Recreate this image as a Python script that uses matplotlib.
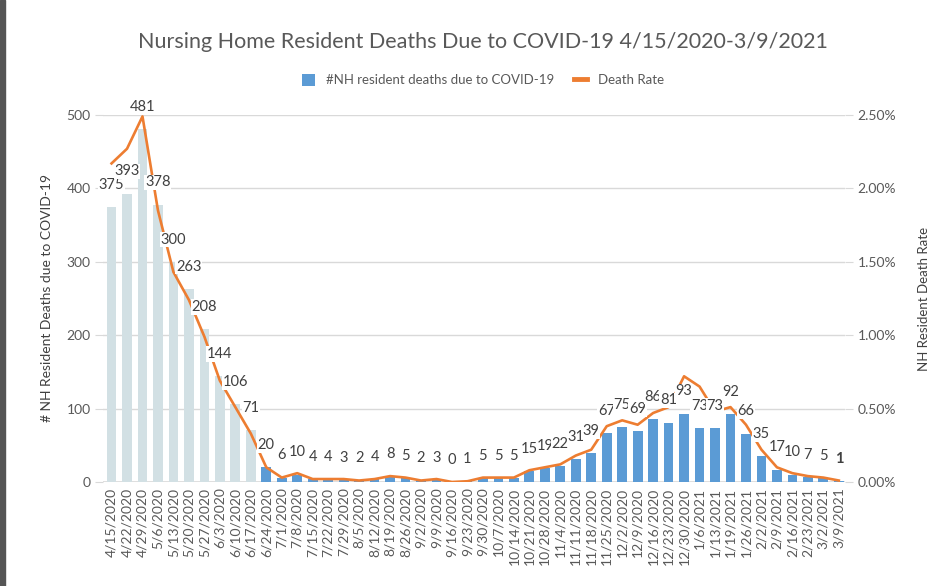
import matplotlib
matplotlib.use("Agg")
import matplotlib.pyplot as plt
from matplotlib.patches import Patch, Rectangle
from matplotlib.lines import Line2D
from matplotlib.ticker import FuncFormatter

plt.rcParams['font.family'] = ['Lato', 'DejaVu Sans']

weeks = ["4/15/2020", "4/22/2020", "4/29/2020", "5/6/2020", "5/13/2020", "5/20/2020",
         "5/27/2020", "6/3/2020", "6/10/2020", "6/17/2020", "6/24/2020", "7/1/2020",
         "7/8/2020", "7/15/2020", "7/22/2020", "7/29/2020", "8/5/2020", "8/12/2020",
         "8/19/2020", "8/26/2020", "9/2/2020", "9/9/2020", "9/16/2020", "9/23/2020",
         "9/30/2020", "10/7/2020", "10/14/2020", "10/21/2020", "10/28/2020", "11/4/2020",
         "11/11/2020", "11/18/2020", "11/25/2020", "12/2/2020", "12/9/2020", "12/16/2020",
         "12/23/2020", "12/30/2020", "1/6/2021", "1/13/2021", "1/19/2021", "1/26/2021",
         "2/2/2021", "2/9/2021", "2/16/2021", "2/23/2021", "3/2/2021", "3/9/2021"]

deaths = [375, 393, 481, 378, 300, 263, 208, 144, 106, 71, 20, 6,
          10, 4, 4, 3, 2, 4, 8, 5, 2, 3, 0, 1,
          5, 5, 5, 15, 19, 22, 31, 39, 67, 75, 69, 86,
          81, 93, 73, 73, 92, 66, 35, 17, 10, 7, 5, 1]

# death rate in percent
death_rate = [2.17, 2.27, 2.49, 1.85, 1.43, 1.24, 0.99, 0.69, 0.51, 0.33, 0.10, 0.03,
              0.06, 0.02, 0.02, 0.02, 0.01, 0.02, 0.04, 0.03, 0.01, 0.02, 0.0, 0.005,
              0.03, 0.03, 0.03, 0.08, 0.10, 0.12, 0.18, 0.22, 0.38, 0.42, 0.39, 0.47,
              0.51, 0.72, 0.65, 0.48, 0.51, 0.39, 0.22, 0.10, 0.06, 0.04, 0.03, 0.01]

n_faded = 10  # first weeks drawn in a pale colour

blue = "#5B9BD5"
pale = "#D2E0E4"
orange = "#ED7D31"
grey_txt = "#595959"

fig = plt.figure(figsize=(9.47, 5.86), dpi=100)
ax = fig.add_axes([0.1088, 0.1775, 0.7835, 0.6263])
ax2 = ax.twinx()

x = list(range(len(weeks)))
colors = [pale if i < n_faded else blue for i in x]
ax.bar(x, deaths, width=0.63, color=colors, zorder=2)
ax.axhline(0, color="#7F7F7F", lw=1, zorder=1)

ax.set_ylim(0, 500)
ax.set_xlim(-0.55, len(weeks) - 0.6)
ax.set_yticks([0, 100, 200, 300, 400, 500])
ax.grid(axis="y", color="#D9D9D9", lw=1, zorder=0)
ax.set_axisbelow(True)
ax.set_xticks(x)
ax.set_xticklabels(weeks, rotation=90, fontsize=10, color=grey_txt)
ax.tick_params(axis="x", length=0, pad=4)
ax.tick_params(axis="y", length=6, color="#D9D9D9", labelsize=10, labelcolor=grey_txt, pad=3)
for s in ax.spines.values():
    s.set_visible(False)
ax.set_ylabel("# NH Resident Deaths due to COVID-19", fontsize=10, color="#404040", labelpad=10)

ax2.plot(x, death_rate, color=orange, lw=1.9, zorder=3, solid_joinstyle="round")
ax2.set_ylim(0, 2.5)
ax2.set_yticks([0, 0.5, 1.0, 1.5, 2.0, 2.5])
ax2.yaxis.set_major_formatter(FuncFormatter(lambda v, p: f"{v:.2f}%"))
ax2.tick_params(axis="y", length=6, color="#D9D9D9", labelsize=10, labelcolor=grey_txt, pad=3)
for s in ax2.spines.values():
    s.set_visible(False)
ax2.set_ylabel("NH Resident Death Rate", fontsize=9.5, color="#404040", labelpad=16)

# data labels above the bars, drawn over the line
for i, v in enumerate(deaths):
    last = i == len(deaths) - 1
    ax2.annotate(str(v), xy=(i, v / 200.0), xytext=(0, 16), textcoords="offset points",
                 ha="center", va="center", fontsize=10.5, color="#404040",
                 fontweight="bold" if last else "normal",
                 bbox=dict(boxstyle="square,pad=0.05", fc="white", ec="none"),
                 zorder=4)

fig.suptitle("Nursing Home Resident Deaths Due to COVID-19 4/15/2020-3/9/2021",
             x=0.51, y=0.928, fontsize=15.5, color=grey_txt, va="center")

handles = [Patch(facecolor=blue, edgecolor="none"),
           Line2D([0], [0], color=orange, lw=3.5)]
fig.legend(handles, ["#NH resident deaths due to COVID-19", "Death Rate"],
           loc="center", bbox_to_anchor=(0.51, 1 - 80 / 586), ncol=2, frameon=False,
           fontsize=9.5, handlelength=1.0, handleheight=1.0, columnspacing=1.5,
           labelcolor=grey_txt)

# dark strip on the left edge of the screenshot
fig.patches.append(Rectangle((0, 0), 5 / 947, 1, transform=fig.transFigure,
                             color="#555555", zorder=10))

fig.savefig("out.png", dpi=100)
